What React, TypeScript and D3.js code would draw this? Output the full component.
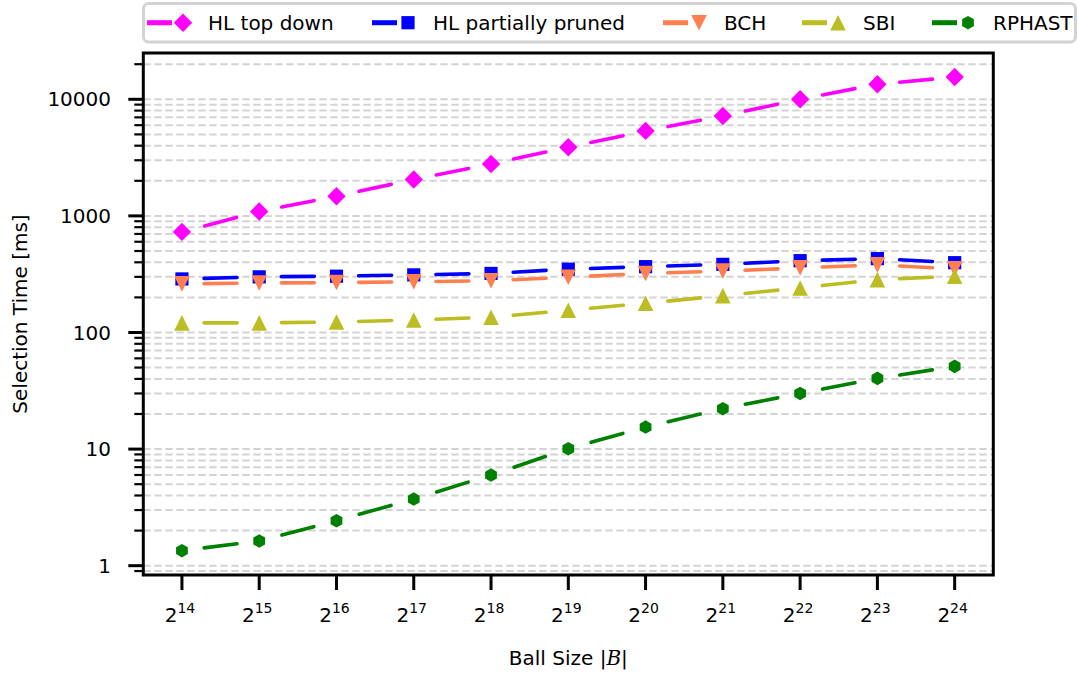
import React from "react";
import * as d3 from "d3";

// ---- data ----
const exponents = [14, 15, 16, 17, 18, 19, 20, 21, 22, 23, 24];
const hlTopDown = [729, 1091, 1475, 2051, 2790, 3880, 5355, 7195, 10000, 13460, 15530];
const hlPartiallyPruned = [288, 300, 304, 312, 321, 349, 367, 384, 413, 430, 397];
const bch = [261, 266, 268, 272, 278, 298, 321, 336, 358, 380, 351];
const sbi = [121, 121, 123, 128, 135, 155, 178, 207, 241, 284, 304];
const rphast = [1.345, 1.628, 2.43, 3.73, 5.99, 10.07, 15.45, 22.2, 30.0, 40.4, 51.2];
const seriesNames = ["HL top down", "HL partially pruned", "BCH", "SBI", "RPHAST"];
const yTickValues = [1, 10, 100, 1000, 10000];
const yTickLabels = ["1", "10", "100", "1000", "10000"];
const xLabelPre = "Ball Size |";
const xLabelSym = "B";
const xLabelPost = "|";
const yLabel = "Selection Time [ms]";

// ---- styles ----
const seriesValues = [hlTopDown, hlPartiallyPruned, bch, sbi, rphast];
const colors = ["#ff00ff", "#0000ff", "#ff7f50", "#bcbd22", "#008000"];
const markers = ["diamond", "square", "triangleDown", "triangleUp", "hexagon"];
const legendX = [147, 372, 663, 802, 932];

const W = 1079;
const H = 673;
const plot = { left: 143.3, right: 993.3, top: 53, bottom: 575 };
const FONT = "'DejaVu Sans', sans-serif";

function markerPath(type: string): string {
  const p = d3.path();
  const poly = (pts: [number, number][]) => {
    pts.forEach(([x, y], i) => (i === 0 ? p.moveTo(x, y) : p.lineTo(x, y)));
    p.closePath();
  };
  if (type === "diamond") {
    const r = 9.2;
    poly([[0, -r], [r, 0], [0, r], [-r, 0]]);
  } else if (type === "square") {
    const h = 6.6;
    poly([[-h, -h], [h, -h], [h, h], [-h, h]]);
  } else if (type === "triangleDown") {
    const s = 7.8;
    poly([[-s, -s], [s, -s], [0, s]]);
  } else if (type === "triangleUp") {
    const s = 7.8;
    poly([[0, -s], [s, s], [-s, s]]);
  } else {
    const r = 6.8;
    const pts: [number, number][] = [];
    for (let k = 0; k < 6; k++) {
      const a = (-90 + 60 * k) * (Math.PI / 180);
      pts.push([r * Math.cos(a), r * Math.sin(a)]);
    }
    poly(pts);
  }
  return p.toString();
}

export default function App() {
  const x = d3
    .scaleLog()
    .base(2)
    .domain([Math.pow(2, 13.5), Math.pow(2, 24.5)])
    .range([plot.left, plot.right]);
  const y = d3.scaleLog().domain([0.832, 24950]).range([plot.bottom, plot.top]);

  const gridVals: number[] = [];
  for (let k = -1; k <= 4; k++) {
    for (let m = 1; m <= 9; m++) {
      const v = m * Math.pow(10, k);
      if (v >= y.domain()[0] && v <= y.domain()[1]) gridVals.push(v);
    }
  }
  const minorVals = gridVals.filter((v) => !yTickValues.includes(v));

  const line = d3
    .line<[number, number]>()
    .x((d) => d[0])
    .y((d) => d[1]);

  const DASH = 33;

  return (
    <svg
      width={W}
      height={H}
      style={{ position: "absolute", left: 0, top: 0, background: "#fff" }}
      fontFamily={FONT}
    >
      <rect x={0} y={0} width={W} height={H} fill="#fff" />
      <g>
        {gridVals.map((v, i) => (
          <line
            key={i}
            x1={plot.left}
            x2={plot.right}
            y1={y(v)}
            y2={y(v)}
            stroke="#d3d3d3"
            strokeWidth={2}
            strokeDasharray="7.4 3.6"
          />
        ))}
      </g>

      {seriesValues.map((vals, si) => {
        const pts: [number, number][] = vals.map((v, i) => [x(Math.pow(2, exponents[i])), y(v)]);
        const segs: [number, number][][] = [];
        for (let i = 0; i < pts.length - 1; i++) {
          const [x1, y1] = pts[i];
          const [x2, y2] = pts[i + 1];
          const L = Math.hypot(x2 - x1, y2 - y1);
          const t0 = (L - DASH) / 2 / L;
          const t1 = (L + DASH) / 2 / L;
          segs.push([
            [x1 + (x2 - x1) * t0, y1 + (y2 - y1) * t0],
            [x1 + (x2 - x1) * t1, y1 + (y2 - y1) * t1],
          ]);
        }
        const mp = markerPath(markers[si]);
        return (
          <g key={si}>
            {segs.map((s, k) => (
              <path
                key={k}
                d={line(s) || ""}
                fill="none"
                stroke={colors[si]}
                strokeWidth={3.6}
                strokeLinecap="round"
              />
            ))}
            {pts.map((p, k) => (
              <path key={k} d={mp} transform={`translate(${p[0]},${p[1]})`} fill={colors[si]} />
            ))}
          </g>
        );
      })}

      <rect
        x={plot.left}
        y={plot.top}
        width={plot.right - plot.left}
        height={plot.bottom - plot.top}
        fill="none"
        stroke="#000"
        strokeWidth={3}
      />

      {yTickValues.map((v, i) => (
        <g key={i}>
          <line x1={plot.left - 15} x2={plot.left} y1={y(v)} y2={y(v)} stroke="#000" strokeWidth={3} />
          <text x={111} y={y(v)} dy="0.36em" textAnchor="end" fontSize={20} fill="#000">
            {yTickLabels[i]}
          </text>
        </g>
      ))}
      {minorVals.map((v, i) => (
        <line key={i} x1={plot.left - 9} x2={plot.left} y1={y(v)} y2={y(v)} stroke="#000" strokeWidth={2.2} />
      ))}

      {exponents.map((e, i) => {
        const xp = x(Math.pow(2, e));
        return (
          <g key={i}>
            <line x1={xp} x2={xp} y1={plot.bottom} y2={plot.bottom + 15} stroke="#000" strokeWidth={3} />
            <text x={xp - 2} y={621.5} textAnchor="middle" fontSize={20} fill="#000">
              <tspan>2</tspan>
              <tspan fontSize={14} dy={-9}>
                {String(e)}
              </tspan>
            </text>
          </g>
        );
      })}

      <text x={(plot.left + plot.right) / 2} y={665} textAnchor="middle" fontSize={20} fill="#000">
        <tspan>{xLabelPre}</tspan>
        <tspan fontFamily="'DejaVu Serif', serif" fontStyle="italic">
          {xLabelSym}
        </tspan>
        <tspan>{xLabelPost}</tspan>
      </text>
      <text
        transform={`translate(27,${(plot.top + plot.bottom) / 2}) rotate(-90)`}
        textAnchor="middle"
        fontSize={20}
        fill="#000"
      >
        {yLabel}
      </text>

      <rect x={143.5} y={3.5} width={932} height={38.5} rx={5} ry={5} fill="#fff" stroke="#d3d3d3" strokeWidth={3} />
      {seriesNames.map((name, i) => {
        const x0 = legendX[i];
        const ly = 22.7;
        return (
          <g key={i}>
            <line x1={x0} x2={x0 + 25} y1={ly} y2={ly} stroke={colors[i]} strokeWidth={5} />
            <path d={markerPath(markers[i])} transform={`translate(${x0 + 36},${ly})`} fill={colors[i]} />
            <text x={x0 + 61} y={ly} dy="0.36em" fontSize={20} fill="#000">
              {name}
            </text>
          </g>
        );
      })}
    </svg>
  );
}
